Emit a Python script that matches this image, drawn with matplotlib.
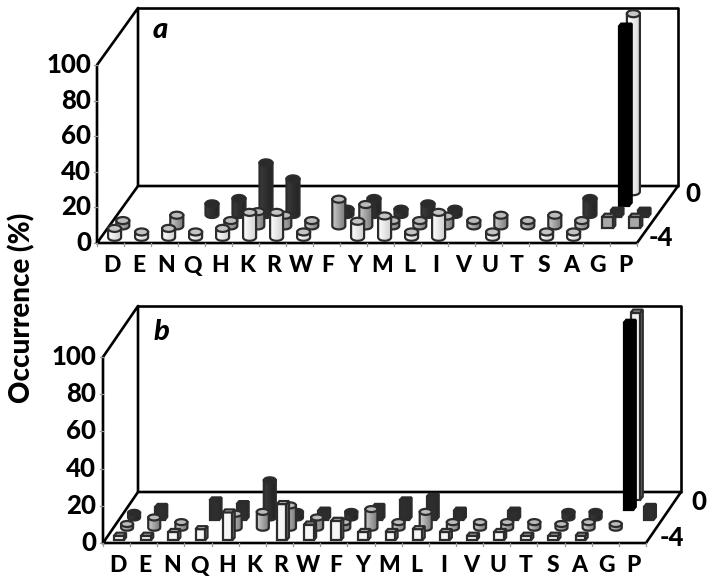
import numpy as np
import matplotlib
matplotlib.use('Agg')
import matplotlib.pyplot as plt
from matplotlib.patches import Polygon, Ellipse

# Residues along the x axis
RESIDUES = ['D', 'E', 'N', 'Q', 'H', 'K', 'R', 'W', 'F', 'Y', 'M', 'L', 'I', 'V', 'U', 'T', 'S', 'A', 'G', 'P']
Y_TICKS = [0, 20, 40, 60, 80, 100]

# Panel a, occurrence (%) per position, front row first
A_ROW0 = [5, 3, 5, 3, 5, 14, 14, 3, 0, 9, 12, 3, 14, 0, 3, 0, 3, 3, 0, 0]
A_ROW1 = [3, 0, 6, 0, 3, 8, 6, 3, 15, 12, 3, 3, 5.5, 3, 6, 3, 6, 3, 6, 6]
A_ROW2 = [0, 0, 0, 6, 9, 29, 20, 0, 3, 9, 3, 6, 3, 0, 0, 0, 0, 9, 3, 3]
A_ROW3 = [0, 0, 0, 0, 0, 0, 0, 0, 0, 0, 0, 0, 0, 0, 0, 0, 0, 0, 100, 0]
A_ROW4 = [0, 0, 0, 0, 0, 0, 0, 0, 0, 0, 0, 0, 0, 0, 0, 0, 0, 0, 100, 0]

# Panel b
B_ROW0 = [2, 2, 4, 5.5, 14.5, 0, 19, 8, 10, 4, 4, 5.5, 4, 2, 4, 2, 2, 2, 0, 0]
B_ROW1 = [2, 5.5, 3, 0, 7.5, 8.5, 12, 5.5, 3, 10, 3, 8.5, 3, 3, 3, 3, 2, 3, 2, 0]
B_ROW2 = [2.5, 6.5, 0, 10, 8, 20, 3, 4.5, 3, 6.5, 10, 12, 4.5, 0, 4.5, 0, 3, 3, 0, 6.5]
B_ROW3 = [0, 0, 0, 0, 0, 0, 0, 0, 0, 0, 0, 0, 0, 0, 0, 0, 0, 0, 100, 0]
B_ROW4 = [0, 0, 0, 0, 0, 0, 0, 0, 0, 0, 0, 0, 0, 0, 0, 0, 0, 0, 100, 0]

# Figure geometry in pixels
PANEL_A = dict(x0=97, x1=637, y0=243, dx=41, dy=57, ppv=1.78, bar_w=13, cap_h=7, label='a',
               label_xy=(160, 30), back_xy=(693, 194), front_xy=(661, 238), cat_y=266, ytick_x=91)
PANEL_B = dict(x0=103, x1=646, y0=543, dx=35, dy=51, ppv=1.86, bar_w=12, cap_h=6, label='b',
               label_xy=(161, 332), back_xy=(699, 502), front_xy=(672, 538), cat_y=566, ytick_x=96)

# light side, dark side, cap, box front
ROW_COLORS = [('#ffffff', '#d0d0d0', '#c4c4c4', '#f6f6f6'),
              ('#cccccc', '#7c7c7c', '#bbbbbb', '#a8a8a8'),
              ('#3a3a3a', '#222222', '#2a2a2a', '#2e2e2e'),
              ('#000000', '#000000', '#000000', '#000000'),
              ('#ffffff', '#d8d8d8', '#c8c8c8', '#f0f0f0')]
EDGE = '#2c2c2c'
EDGE_W = 1.6

FONT = 'Lato'
WEIGHT = 900


def project(p, cat, row, value=0):
    """Oblique projection of (category, row, value) to pixels"""
    cat_w = (p['x1'] - p['x0']) / len(RESIDUES)
    depth = (row + 0.5) / 5
    x = p['x0'] + cat_w * (cat + 0.5) + p['dx'] * depth
    y = p['y0'] - p['dy'] * depth - p['ppv'] * value
    return x, y


def draw_cylinder(ax, p, cat, row, value, z):
    x, y_base = project(p, cat, row)
    _, y_top = project(p, cat, row, value)
    w, h = p['bar_w'], p['cap_h']
    light, dark, cap, _ = ROW_COLORS[row]
    t = np.linspace(np.pi, 0, 20)
    bottom = [(x + w / 2 * np.cos(a), y_base + h / 2 * np.sin(a)) for a in t]
    pts = [(x - w / 2, y_top)] + bottom + [(x + w / 2, y_top)]
    body = Polygon(pts, closed=True, facecolor='none', edgecolor=EDGE, lw=EDGE_W, zorder=z + 0.2)
    ax.add_patch(body)
    fill_grad = np.linspace(0, 1, 32)[None, :]
    cmap = matplotlib.colors.LinearSegmentedColormap.from_list('bar', [light, dark])
    im = ax.imshow(fill_grad, extent=(x - w / 2, x + w / 2, y_base + h, y_top), cmap=cmap,
                   aspect='auto', zorder=z + 0.1, interpolation='bilinear')
    im.set_clip_path(body)
    ax.add_patch(Ellipse((x, y_top), w, h, facecolor=cap, edgecolor=EDGE, lw=EDGE_W, zorder=z + 0.3))


def draw_box(ax, p, cat, row, value, z):
    x, y_base = project(p, cat, row)
    _, y_top = project(p, cat, row, value)
    w = p['bar_w']
    side = 2.5
    rise = 3
    _, dark, cap, front = ROW_COLORS[row]
    left, right = x - w / 2, x + w / 2 - side
    y_b = y_base + 2.5
    y_t = y_top + 1.5
    edge = '#000000' if row == 3 else EDGE
    kw = dict(closed=True, edgecolor=edge, lw=EDGE_W)
    ax.add_patch(Polygon([(right, y_b), (right + side, y_b - rise), (right + side, y_t - rise), (right, y_t)],
                         facecolor=dark, zorder=z + 0.1, **kw))
    ax.add_patch(Polygon([(left, y_b), (right, y_b), (right, y_t), (left, y_t)],
                         facecolor=front, zorder=z + 0.2, **kw))
    ax.add_patch(Polygon([(left, y_t), (right, y_t), (right + side, y_t - rise), (left + side, y_t - rise)],
                         facecolor=cap, zorder=z + 0.3, **kw))


def draw_frame(ax, p):
    x0, x1, y0, dx, dy = p['x0'], p['x1'], p['y0'], p['dx'], p['dy']
    y_top = y0 - p['ppv'] * 100
    frame = dict(color='black', lw=1.9, solid_capstyle='round', zorder=1)
    ax.plot([x0, x1, x1 + dx, x0 + dx, x0], [y0, y0, y0 - dy, y0 - dy, y0], **frame)
    ax.plot([x0, x0, x0 + dx, x0 + dx], [y0, y_top, y_top - dy, y0 - dy], **frame)
    ax.plot([x0 + dx, x1 + dx, x1 + dx], [y_top - dy, y_top - dy, y0 - dy], **frame)
    cat_w = (x1 - x0) / len(RESIDUES)
    text = dict(ha='center', va='center', fontweight=WEIGHT, family=FONT)
    for i in range(len(RESIDUES) + 1):
        ax.plot([x0 + i * cat_w] * 2, [y0, y0 + 3], color='#999999', lw=0.9, zorder=1)
    for i, name in enumerate(RESIDUES):
        ax.text(x0 + (i + 0.5) * cat_w + 1.5, p['cat_y'], name, fontsize=16.5, **text)
    for tick in Y_TICKS:
        y = y0 - p['ppv'] * tick
        ax.plot([x0 - 3, x0], [y, y], color='#999999', lw=0.9, zorder=1)
        ax.text(p['ytick_x'], y, str(tick), ha='right', va='center', fontsize=18.5,
                fontweight=WEIGHT, family=FONT)
    ax.text(*p['label_xy'], p['label'], fontsize=21, style='italic', **text)
    ax.text(*p['back_xy'], '0', fontsize=18.5, **text)
    ax.text(*p['front_xy'], '-4', fontsize=18.5, **text)


def is_cylinder(panel_label, cat, row):
    name = RESIDUES[cat]
    if panel_label == 'a':
        if row == 3 or row == 4:
            return row == 4
        return not (row == 1 and name in 'GP') and not (row == 2 and name in 'GP')
    if row == 1:
        return True
    if row == 2:
        return name in 'DKRFSA'
    return False


def draw_panel(ax, p, rows):
    draw_frame(ax, p)
    z = 2
    for row in range(len(rows) - 1, -1, -1):
        for cat, value in enumerate(rows[row]):
            if value <= 0:
                continue
            if is_cylinder(p['label'], cat, row):
                draw_cylinder(ax, p, cat, row, value, z)
            else:
                draw_box(ax, p, cat, row, value, z)
            z += 1


fig = plt.figure(figsize=(7.14, 5.86), dpi=100)
ax = fig.add_axes([0, 0, 1, 1])

draw_panel(ax, PANEL_A, [A_ROW0, A_ROW1, A_ROW2, A_ROW3, A_ROW4])
draw_panel(ax, PANEL_B, [B_ROW0, B_ROW1, B_ROW2, B_ROW3, B_ROW4])

ax.text(22, 308, 'Occurrence (%)', rotation=90, ha='center', va='center', fontsize=20,
        fontweight=WEIGHT, family=FONT)

ax.set_xlim(0, 714)
ax.set_ylim(586, 0)
ax.axis('off')

fig.savefig('out.png', dpi=100)
